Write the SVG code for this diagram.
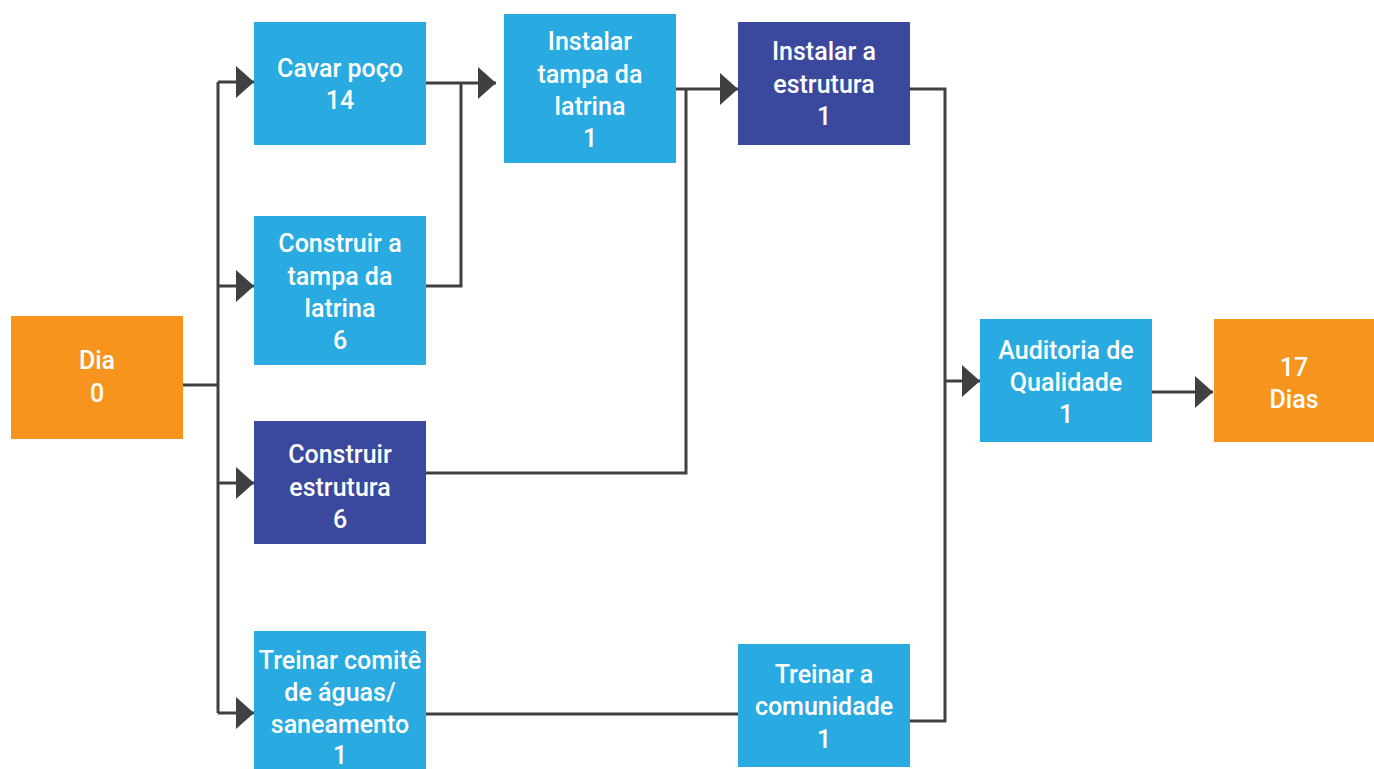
<svg xmlns="http://www.w3.org/2000/svg" width="1374" height="769" viewBox="0 0 1374 769">
  <style>
    .light { fill: #29abe2; }
    .dark { fill: #3a489e; }
    .orange { fill: #f7941e; }
    .lbl { font-family: Roboto, "Liberation Sans", sans-serif; font-size: 25px; font-weight: 500; fill: #ffffff; text-anchor: middle; }
    .wire { fill: none; stroke: #404040; stroke-width: 3; }
  </style>
  <defs>
    <marker id="arrow" viewBox="0 0 18 32" refX="18" refY="16" markerWidth="18" markerHeight="32" markerUnits="userSpaceOnUse" orient="auto">
      <path d="M0,0 L18,16 L0,32 Z" fill="#404040"/>
    </marker>
  </defs>
  <rect width="1374" height="769" fill="#ffffff"/>

  <!-- connectors -->
  <g id="connectors" class="wire">
    <path d="M183,385 H218"/>
    <path d="M218,82 V713"/>
    <path d="M218,82 H254" marker-end="url(#arrow)"/>
    <path d="M218,286 H254" marker-end="url(#arrow)"/>
    <path d="M218,483 H254" marker-end="url(#arrow)"/>
    <path d="M218,713 H254" marker-end="url(#arrow)"/>
    <path d="M426,83 H496" marker-end="url(#arrow)"/>
    <path d="M426,286 H461 V83"/>
    <path d="M667,89 H738" marker-end="url(#arrow)"/>
    <path d="M426,473 H686 V89"/>
    <path d="M426,714 H738"/>
    <path d="M910,89 H945 V721 H910"/>
    <path d="M945,381 H980" marker-end="url(#arrow)"/>
    <path d="M1152,392 H1213" marker-end="url(#arrow)"/>
  </g>

  <g id="start">
    <rect class="orange" x="11" y="316" width="172" height="123"/>
    <text class="lbl" x="97" y="369">Dia</text>
    <text class="lbl" x="97" y="402">0</text>
  </g>

  <g id="cavar-poco">
    <rect class="light" x="254" y="22" width="172" height="123"/>
    <text class="lbl" x="340" y="77">Cavar poço</text>
    <text class="lbl" x="340" y="109">14</text>
  </g>

  <g id="construir-tampa">
    <rect class="light" x="254" y="216" width="172" height="149"/>
    <text class="lbl" x="340" y="252">Construir a</text>
    <text class="lbl" x="340" y="285">tampa da</text>
    <text class="lbl" x="340" y="317">latrina</text>
    <text class="lbl" x="340" y="349">6</text>
  </g>

  <g id="construir-estrutura">
    <rect class="dark" x="254" y="421" width="172" height="123"/>
    <text class="lbl" x="340" y="463">Construir</text>
    <text class="lbl" x="340" y="496">estrutura</text>
    <text class="lbl" x="340" y="528">6</text>
  </g>

  <g id="treinar-comite">
    <rect class="light" x="254" y="631" width="172" height="138"/>
    <text class="lbl" x="340" y="669">Treinar comitê</text>
    <text class="lbl" x="340" y="701">de águas/</text>
    <text class="lbl" x="340" y="733">saneamento</text>
    <text class="lbl" x="340" y="764">1</text>
  </g>

  <g id="instalar-tampa">
    <rect class="light" x="504" y="14" width="172" height="149"/>
    <text class="lbl" x="590" y="50">Instalar</text>
    <text class="lbl" x="590" y="83">tampa da</text>
    <text class="lbl" x="590" y="115">latrina</text>
    <text class="lbl" x="590" y="147">1</text>
  </g>

  <g id="instalar-estrutura">
    <rect class="dark" x="738" y="22" width="172" height="123"/>
    <text class="lbl" x="824" y="60">Instalar a</text>
    <text class="lbl" x="824" y="93">estrutura</text>
    <text class="lbl" x="824" y="125">1</text>
  </g>

  <g id="treinar-comunidade">
    <rect class="light" x="738" y="644" width="172" height="123"/>
    <text class="lbl" x="824" y="683">Treinar a</text>
    <text class="lbl" x="824" y="715">comunidade</text>
    <text class="lbl" x="824" y="748">1</text>
  </g>

  <g id="auditoria">
    <rect class="light" x="980" y="319" width="172" height="123"/>
    <text class="lbl" x="1066" y="359">Auditoria de</text>
    <text class="lbl" x="1066" y="391">Qualidade</text>
    <text class="lbl" x="1066" y="423">1</text>
  </g>

  <g id="end">
    <rect class="orange" x="1214" y="319" width="160" height="123"/>
    <text class="lbl" x="1294" y="376">17</text>
    <text class="lbl" x="1294" y="408">Dias</text>
  </g>
</svg>
